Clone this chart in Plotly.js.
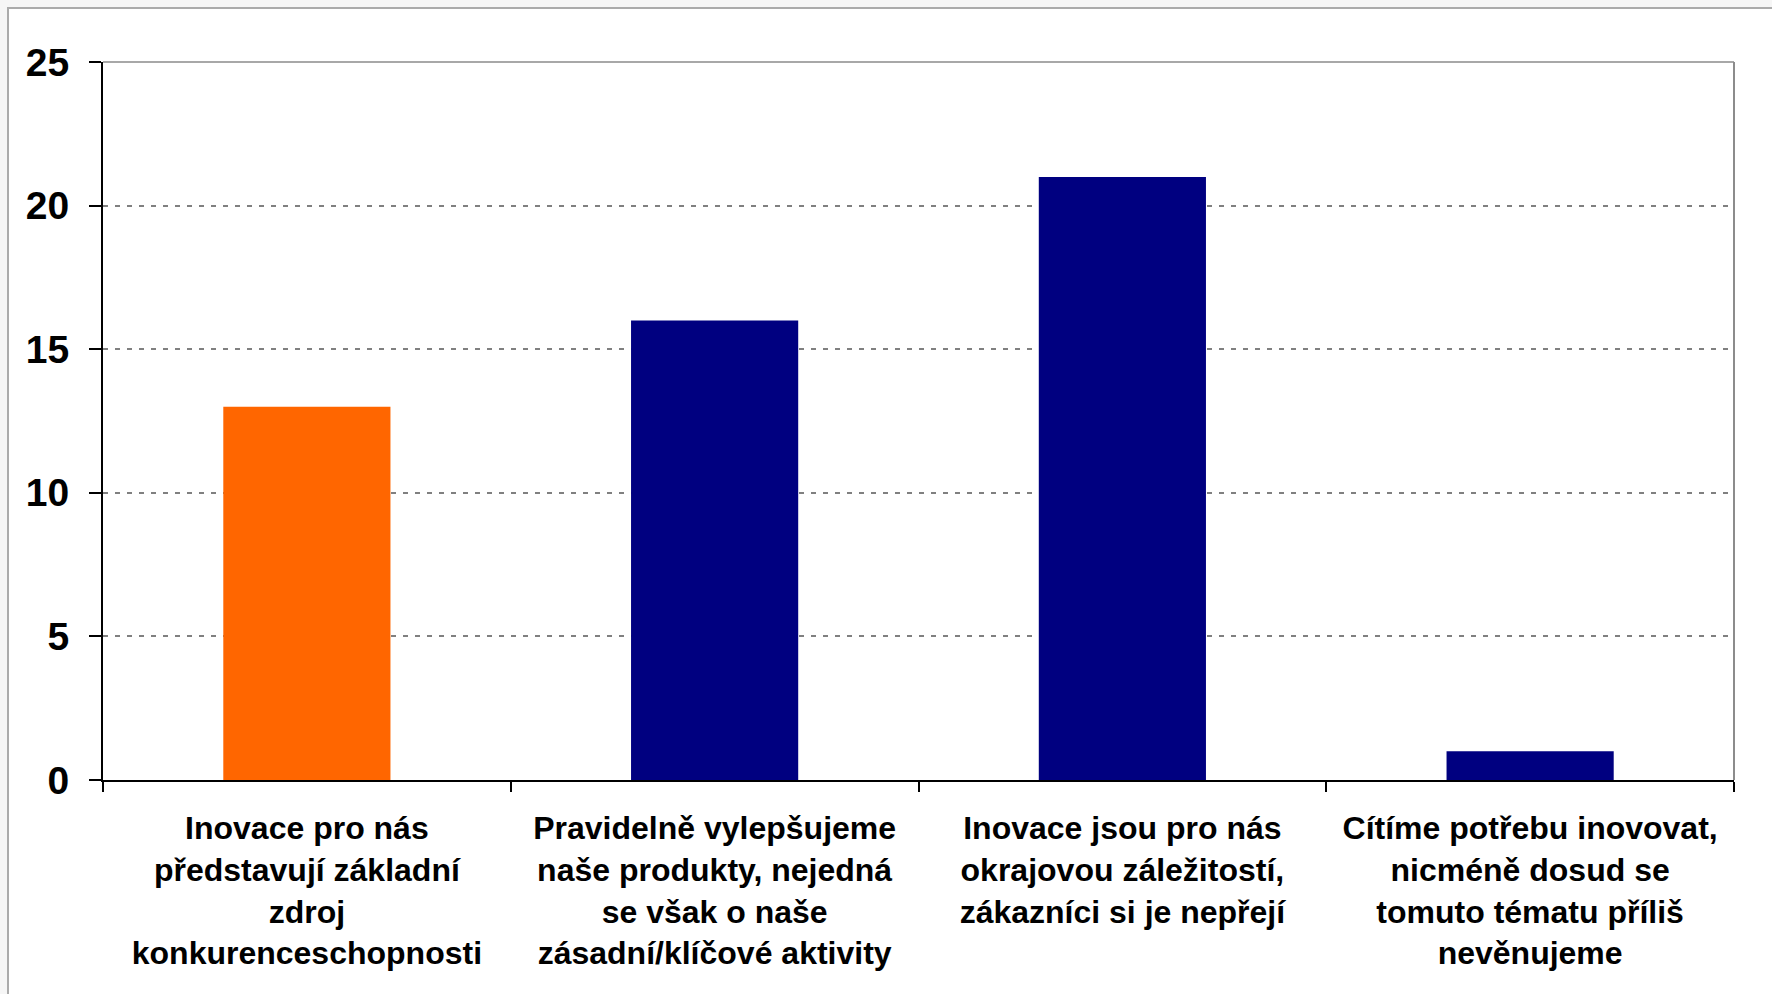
<!DOCTYPE html>
<html>
<head>
<meta charset="utf-8">
<script src="https://cdn.plot.ly/plotly-3.0.1.min.js"></script>
<style>
  html, body { margin: 0; padding: 0; background: #f6f6f6; width: 1772px; height: 994px; overflow: hidden; }
  #frame { position: absolute; left: 7px; top: 7px; border-left: 2px solid #ababab; border-top: 2px solid #ababab; background: #ffffff; }
  #chart { width: 1763px; height: 985px; }
</style>
</head>
<body>
<div id="frame"><div id="chart"></div></div>
<script>
const categories = [
  "Inovace pro nás<br>představují základní<br>zdroj<br>konkurenceschopnosti",
  "Pravidelně vylepšujeme<br>naše produkty, nejedná<br>se však o naše<br>zásadní/klíčové aktivity",
  "Inovace jsou pro nás<br>okrajovou záležitostí,<br>zákazníci si je nepřejí",
  "Cítíme potřebu inovovat,<br>nicméně dosud se<br>tomuto tématu příliš<br>nevěnujeme"
];
const values = [13, 16, 21, 1];
const yTickValues = [0, 5, 10, 15, 20, 25];
const yTickLabels = ["0", "5", "10", "15", "20", "25"];

const barColors = ["#FF6600", "#000080", "#000080", "#000080"];
const fontFamily = "Liberation Sans, Arial, sans-serif";

const trace = {
  type: "bar",
  x: categories,
  y: values,
  marker: { color: barColors, line: { width: 0 } },
  hoverinfo: "x+y"
};

const layout = {
  width: 1763,
  height: 985,
  margin: { l: 94, r: 38, t: 53, b: 214 },
  paper_bgcolor: "#ffffff",
  plot_bgcolor: "#ffffff",
  showlegend: false,
  bargap: 0.59,
  font: { family: fontFamily, color: "#000000" },
  xaxis: {
    type: "category",
    showline: true,
    linecolor: "#000000",
    linewidth: 2,
    ticks: "outside",
    tickson: "boundaries",
    ticklen: 10,
    tickwidth: 2,
    tickcolor: "#000000",
    showgrid: false,
    ticklabelstandoff: 19,
    tickfont: { family: fontFamily, size: 32, weight: "bold", color: "#000000" },
    automargin: false
  },
  yaxis: {
    range: [0, 25],
    tickvals: yTickValues,
    ticktext: yTickLabels,
    showline: true,
    linecolor: "#000000",
    linewidth: 2,
    ticks: "outside",
    ticklen: 12,
    tickwidth: 2,
    tickcolor: "#000000",
    showgrid: true,
    gridcolor: "#808080",
    gridwidth: 2,
    griddash: "5px,7px",
    zeroline: false,
    ticklabelstandoff: 12,
    tickfont: { family: fontFamily, size: 39, weight: "bold", color: "#000000" },
    automargin: false
  },
  shapes: [
    { type: "line", xref: "paper", yref: "paper", x0: 1, x1: 1, y0: 0, y1: 1, line: { color: "#8c8c8c", width: 2 }, layer: "above" },
    { type: "line", xref: "paper", yref: "paper", x0: 0, x1: 1, y0: 1, y1: 1, line: { color: "#a8a8a8", width: 2 }, layer: "below" }
  ]
};

Plotly.newPlot("chart", [trace], layout, { displayModeBar: false, staticPlot: true });
</script>
</body>
</html>
